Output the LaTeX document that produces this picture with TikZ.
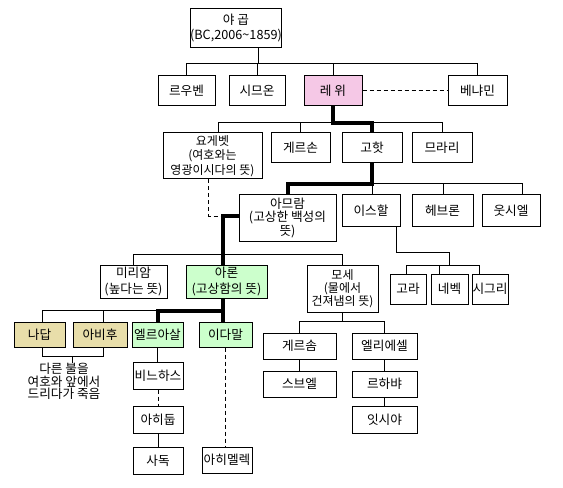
\documentclass[tikz,border=0pt]{standalone}
\usepackage{fontspec}
\newfontfamily\kr{Noto Sans CJK KR}
\definecolor{pinkf}{RGB}{245,200,230}
\definecolor{greenf}{RGB}{204,255,204}
\definecolor{tanf}{RGB}{232,222,170}
\newcommand\bx[7][]{\node[bx,#1,minimum width={(#5-#3)*0.75pt},minimum height={(#6-#4)*0.75pt}] (#2) at ({(#3+#5)/2},{(#4+#6)/2}) {#7};}
\tikzset{
  bx/.style={draw=black,line width=0.75pt,inner sep=0pt,align=center,font=\kr\fontsize{9.5}{10.5}\selectfont},
  thn/.style={line width=0.75pt},
  thk/.style={line width=3pt},
  dsh/.style={line width=0.75pt,dash pattern=on 3pt off 2.25pt},
}
\begin{document}
\begin{tikzpicture}[x=0.75pt,y=-0.75pt]
\useasboundingbox[fill=white] (0,0) rectangle (563,488);
% boxes
\bx[font=\kr\fontsize{9.5}{11.25}\selectfont]{jacob}{192}{9}{280}{48}{야 곱\\(BC,2006\textasciitilde1859)}
\bx{reuben}{158}{76}{215}{106}{르우벤}
\bx{simeon}{229}{76}{285}{106}{시므온}
\bx[fill=pinkf]{levi}{304}{76}{362}{106}{레 위}
\bx{benjamin}{448}{76}{507}{106}{베냐민}
\bx[font=\kr\fontsize{9}{10.9}\selectfont]{jochebed}{163}{133}{262}{179}{요게벳\\(여호와는\\영광이시다의 뜻)}
\bx{gershon}{271}{133}{330}{163}{게르손}
\bx{kohath}{342}{133}{402}{163}{고핫}
\bx{merari}{412}{133}{472}{163}{므라리}
\bx[font=\kr\fontsize{9.5}{10.2}\selectfont]{amram}{239}{195}{336}{241}{아므람\\(고상한 백성의\\뜻)}
\bx{izhar}{342}{195}{400}{226}{이스할}
\bx{hebron}{412}{195}{473}{226}{헤브론}
\bx{uzziel}{482}{195}{540}{226}{웃시엘}
\bx{korah}{390}{274}{426}{304}{고라}
\bx{nepheg}{431}{274}{468}{304}{네벡}
\bx{zichri}{472}{274}{508}{304}{시그리}
\bx[font=\kr\fontsize{9.5}{11.5}\selectfont]{miriam}{100}{265}{167}{298}{미리암\\(높다는 뜻)}
\bx[fill=greenf,font=\kr\fontsize{9.5}{11.5}\selectfont]{aaron}{186}{265}{267}{298}{아론\\(고상함의 뜻)}
\bx[font=\kr\fontsize{9}{9.6}\selectfont]{moses}{307}{265}{378}{312}{모세\\(물에서\\건져냄의 뜻)}
\bx[fill=tanf]{nadab}{14}{322}{65}{347}{나답}
\bx[fill=tanf]{abihu}{73}{322}{127}{347}{아비후}
\bx[fill=greenf]{eleazar}{132}{322}{183}{347}{엘르아살}
\bx[fill=greenf]{ithamar}{199}{322}{252}{347}{이다말}
\bx{gershom}{263}{333}{336}{359}{게르솜}
\bx{eliezer}{352}{333}{417}{359}{엘리에셀}
\bx{shebuel}{263}{371}{336}{397}{스브엘}
\bx{rehabiah}{352}{371}{417}{397}{르하뱌}
\bx{isshiah}{352}{406}{417}{433}{잇시야}
\bx{phinehas}{133}{362}{183}{389}{비느하스}
\bx{ahitub}{133}{406}{183}{433}{아히둡}
\bx{zadok}{133}{447}{183}{474}{사독}
\bx{ahimelech}{202}{447}{252}{473}{아히멜렉}
\node[anchor=north,inner sep=0pt,align=center,font=\kr\fontsize{9.5}{9.4}\selectfont] (death) at (64,363) {다른 불을\\여호와 앞에서\\드리다가 죽음};
% level 1
\draw[thn] (258,0 |- jacob.south) -- (258,64);
\draw[thn] (reuben.north) -- (186.5,64) -| (benjamin.north);
\draw[thn] (simeon.north) -- (simeon.north |- 0,64);
\draw[thn] (levi.north) -- (levi.north |- 0,64);
\draw[dsh] (levi.east) -- (benjamin.west);
% level 2
\draw[thn] (218,0 |- jochebed.north) -- (218,123) -| (merari.north);
\draw[thn] (gershon.north) -- (gershon.north |- 0,123);
\draw[thk] (levi.south) -- (333,123) -| (kohath.north);
% level 3
\draw[thn] (372,184) -- (522,184) -- (522,0 |- uzziel.north);
\draw[thn] (372,184) -- (372,0 |- izhar.north);
\draw[thn] (443,184) -- (443,0 |- hebron.north);
\draw[thk] (kohath.south) -- (372,184) -| (amram.north);
\draw[dsh] (208,0 |- jochebed.south) -- (208,216) -- (223,216);
\draw[thk] (amram.west |- 0,216) -- (223,216) -- (223,0 |- aaron.north);
% izhar
\draw[thn] (396,0 |- izhar.south) -- (396,252) -- (449,252) -- (449,265);
\draw[thn] (406,0 |- korah.north) -- (406,265) -- (479,265) -- (479,0 |- zichri.north);
\draw[thn] (439,265) -- (439,0 |- nepheg.north);
% amram children
\draw[thn] (miriam.north) -- (133.5,254) -| (moses.north);
% aaron children
\draw[thn] (157,310.5) -- (42,310.5) -- (42,0 |- nadab.north);
\draw[thn] (103,310.5) -- (103,0 |- abihu.north);
\draw[thk] (223,0 |- aaron.south) -- (223,0 |- ithamar.north);
\draw[thk] (223,310.5) -| (eleazar.north);
\draw[thn] (42,0 |- nadab.south) -- (42,356) -- (103,356) -- (103,0 |- abihu.south);
\draw[thn] (72,356) -- (72,0 |- death.north);
% moses children
\draw[thn] (moses.south) -- (342.5,321);
\draw[thn] (gershom.north) -- (299.5,321) -| (eliezer.north);
\draw[thn] (gershom.south) -- (shebuel.north);
\draw[thn] (eliezer.south) -- (rehabiah.north);
\draw[thn] (rehabiah.south) -- (isshiah.north);
% eleazar / ithamar lines
\draw[thn] (eleazar.south) -- (eleazar.south |- phinehas.north);
\draw[dsh] (phinehas.south) -- (ahitub.north);
\draw[thn] (ahitub.south) -- (zadok.north);
\draw[dsh] (ithamar.south) -- (ithamar.south |- ahimelech.north);
\end{tikzpicture}
\end{document}
